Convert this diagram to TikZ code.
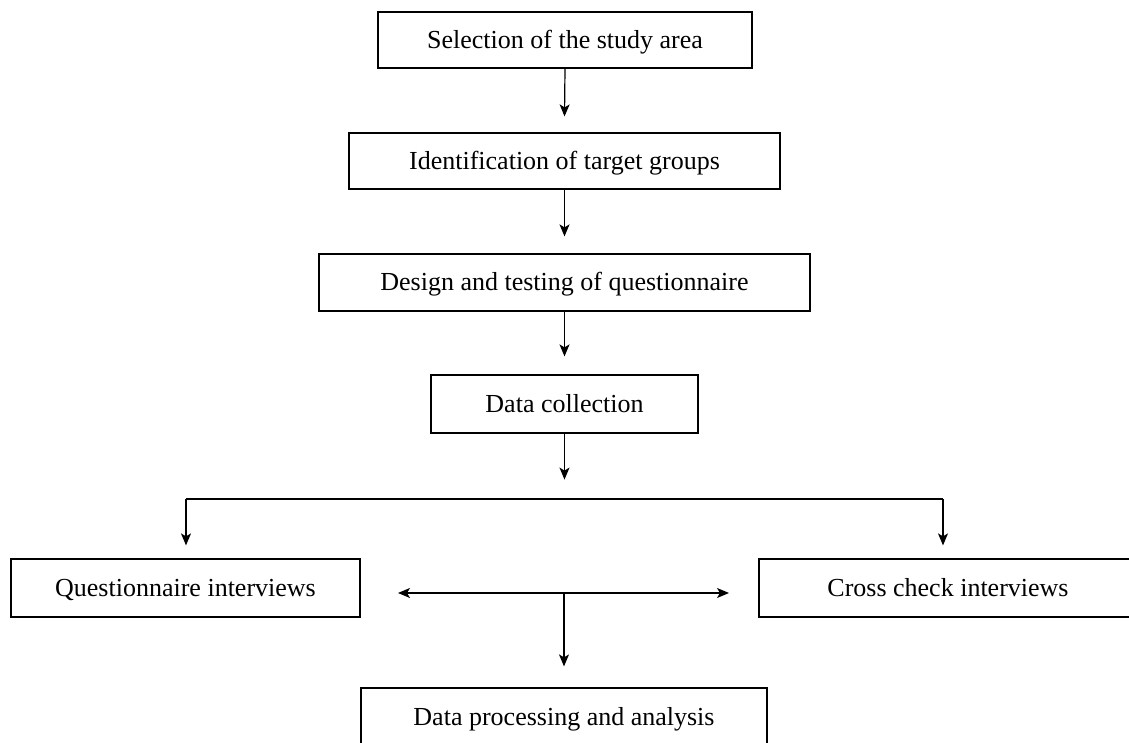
\documentclass[tikz,border=0pt]{standalone}
\usepackage{fontspec}
\setmainfont{Liberation Serif}
\usetikzlibrary{arrows.meta}
\begin{document}
\begin{tikzpicture}[x=1pt,y=1pt,
  box/.style={draw,line width=1.2pt,rectangle,inner sep=0pt,
    text height=18pt,text depth=1pt,
    font=\fontsize{26}{30}\selectfont},
  arr/.style={line width=1.2pt,-{Stealth[length=12pt,width=10pt,inset=3pt]}},
  darr/.style={line width=1.2pt,{Stealth[length=12pt,width=10pt,inset=3pt]}-{Stealth[length=12pt,width=10pt,inset=3pt]}},
  ln/.style={line width=1.2pt}]
\clip (0,0) rectangle (1129,743);
\fill[white] (0,0) rectangle (1129,743);
\node[box,minimum width=374pt,minimum height=56pt] (sel) at (565,703) {Selection of the study area};
\node[box,minimum width=431pt,minimum height=56pt] (idt) at (564.5,582) {Identification of target groups};
\node[box,minimum width=491pt,minimum height=57pt] (des) at (564.5,460.5) {Design and testing of questionnaire};
\node[box,minimum width=267pt,minimum height=58pt] (dc) at (564.5,339) {Data collection};
\node[box,minimum width=349pt,minimum height=58pt] (qi) at (185.5,155) {Questionnaire interviews};
\node[box,minimum width=378pt,minimum height=58pt] (cc) at (948,155) {Cross check interviews};
\node[box,minimum width=406pt,minimum height=58pt] (dp) at (564,26) {Data processing and analysis};
\coordinate (bl) at (186,244);
\coordinate (br) at (943,244);
\coordinate (dl) at (398,150);
\coordinate (dr) at (729,150);
\coordinate (jn) at (564,150);
\draw[arr] (sel.south) -- ([yshift=16pt]idt.north);
\draw[arr] (idt.south) -- ([yshift=17pt]des.north);
\draw[arr] (des.south) -- ([yshift=18pt]dc.north);
\draw[arr] (dc.south) -- ([yshift=-46pt]dc.south);
\draw[ln] (bl) -- (br);
\draw[arr] (bl) -- ([yshift=13pt]qi.north -| bl);
\draw[arr] (br) -- ([yshift=13pt]cc.north -| br);
\draw[darr] (dl) -- (dr);
\draw[arr] (jn) -- ([yshift=21pt]dp.north -| jn);
\end{tikzpicture}
\end{document}
